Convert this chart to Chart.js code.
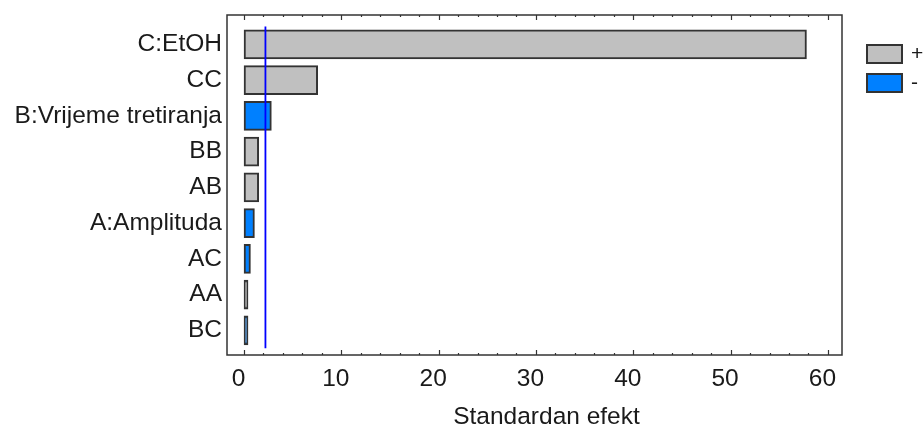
<!DOCTYPE html>
<html>
<head>
<meta charset="utf-8">
<script src="https://cdn.jsdelivr.net/npm/chart.js@4"></script>
<style>
  html, body { margin: 0; padding: 0; background: #fff; }
  #wrap { width: 923px; height: 427px; }
</style>
</head>
<body>
<div id="wrap"><canvas id="chart" width="923" height="427"></canvas></div>
<script>
// Pareto chart values
const factors = ['C:EtOH', 'CC', 'B:Vrijeme tretiranja', 'BB', 'AB', 'A:Amplituda', 'AC', 'AA', 'BC'];
const effects = [57.8, 7.57, 2.81, 1.51, 1.51, 1.07, 0.66, 0.41, 0.41];
const signs = ['+', '+', '-', '+', '+', '-', '-', '+', '-'];
const criticalValue = 2.2;
const xTickValues = [0, 10, 20, 30, 40, 50, 60];
const xMinorStep = 2;
const xTitle = 'Standardan efekt';

const GRAY = '#c0c0c0';
const BLUE = '#0080ff';
const EDGE = '#333333';
const INK = '#1a1a1a';
const FONT = "'Liberation Sans', Arial, sans-serif";
const FONT_SIZE = 24.5;

Chart.defaults.font.family = FONT;
Chart.defaults.font.size = FONT_SIZE;
Chart.defaults.color = INK;

function barsFor(sign) {
    const pts = [];
    for (let i = 0; i < factors.length; i++) {
        if (signs[i] === sign) pts.push({ x: effects[i], y: i });
    }
    return pts;
}

// frame with inward ticks on bottom and top, axis title, and the +/- key
const framePlugin = {
    id: 'frame',
    afterDatasetsDraw(chart) {
        const { ctx, chartArea: a, scales } = chart;
        const xs = scales.x;
        ctx.save();
        ctx.strokeStyle = EDGE;
        ctx.lineWidth = 1.5;
        ctx.strokeRect(a.left, a.top, a.right - a.left, a.bottom - a.top);

        ctx.lineWidth = 1.2;
        ctx.beginPath();
        for (let v = xTickValues[0]; v <= xTickValues[xTickValues.length - 1]; v += xMinorStep) {
            const px = Math.round(xs.getPixelForValue(v)) + 0.5;
            const len = xTickValues.includes(v) ? 5 : 2;
            ctx.moveTo(px, a.bottom);
            ctx.lineTo(px, a.bottom - len);
            ctx.moveTo(px, a.top);
            ctx.lineTo(px, a.top + len);
        }
        ctx.stroke();

        ctx.fillStyle = INK;
        ctx.font = FONT_SIZE + 'px ' + FONT;
        ctx.textAlign = 'center';
        ctx.textBaseline = 'middle';
        ctx.fillText(xTitle, (a.left + a.right) / 2 + 12, 417);

        // key
        ctx.font = '21px ' + FONT;
        const keys = chart.data.datasets.filter(d => d.type !== 'line');
        keys.forEach((d, k) => {
            const bx = a.right + 24;
            const by = 44 + k * 29;
            ctx.fillStyle = d.backgroundColor;
            ctx.fillRect(bx, by, 37, 20);
            ctx.strokeStyle = EDGE;
            ctx.lineWidth = 2;
            ctx.strokeRect(bx + 1, by + 1, 35, 18);
            ctx.fillStyle = INK;
            ctx.textAlign = 'left';
            ctx.fillText(d.label, a.right + 69, by + 10);
        });
        ctx.restore();
    }
};

function noPad(scale) {
    scale.paddingTop = 0;
    scale.paddingBottom = 0;
    scale.paddingLeft = 0;
    scale.paddingRight = 0;
}

new Chart(document.getElementById('chart'), {
    type: 'bar',
    data: {
        datasets: [
            {
                type: 'line',
                label: 'kriticna vrijednost',
                data: [{ x: criticalValue, y: -0.5 }, { x: criticalValue, y: factors.length - 0.5 }],
                borderColor: '#0000ff',
                borderWidth: 1.8,
                pointRadius: 0,
                order: 0
            },
            {
                label: '+',
                data: barsFor('+'),
                backgroundColor: GRAY,
                borderColor: EDGE,
                borderWidth: 2,
                borderSkipped: false,
                barThickness: 29,
                grouped: false,
                order: 1
            },
            {
                label: '-',
                data: barsFor('-'),
                backgroundColor: BLUE,
                borderColor: EDGE,
                borderWidth: 2,
                borderSkipped: false,
                barThickness: 29,
                grouped: false,
                order: 1
            }
        ]
    },
    options: {
        indexAxis: 'y',
        responsive: false,
        animation: false,
        layout: { padding: { top: 15, right: 81, left: 0, bottom: 0 } },
        plugins: {
            legend: { display: false },
            tooltip: { enabled: false }
        },
        scales: {
            x: {
                type: 'linear',
                offset: false,
                min: -1.75,
                max: 61.45,
                grid: { display: false, drawTicks: false },
                border: { display: false },
                afterFit(scale) { scale.height = 72; noPad(scale); },
                afterBuildTicks(scale) { scale.ticks = xTickValues.map(v => ({ value: v })); },
                ticks: { padding: 10, labelOffset: -5.5, maxRotation: 0, color: INK },
                title: { display: false }
            },
            y: {
                type: 'linear',
                offset: false,
                reverse: true,
                min: -0.82,
                max: 8.69,
                grid: { display: false, drawTicks: false, offset: false },
                border: { display: false },
                afterFit(scale) { scale.width = 227; noPad(scale); },
                afterBuildTicks(scale) { scale.ticks = factors.map((f, i) => ({ value: i })); },
                ticks: {
                    padding: 5,
                    color: INK,
                    callback: (v) => factors[v]
                }
            }
        }
    },
    plugins: [framePlugin]
});
</script>
</body>
</html>
